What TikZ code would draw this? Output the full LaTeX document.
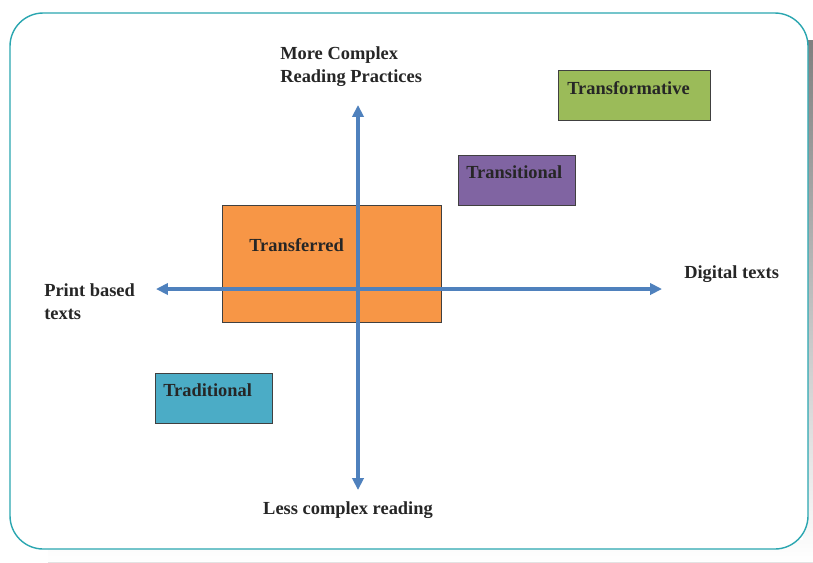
\documentclass[tikz,border=0pt]{standalone}
\usepackage{fontspec}
\setmainfont{Liberation Serif}
\usetikzlibrary{arrows.meta}
\definecolor{frameteal}{HTML}{2AA6B0}
\definecolor{shade}{HTML}{E9F0F2}
\definecolor{axisblue}{HTML}{4F81BD}
\definecolor{orangebox}{HTML}{F79646}
\definecolor{purplebox}{HTML}{8064A2}
\definecolor{greenbox}{HTML}{9BBB59}
\definecolor{bluebox}{HTML}{4BACC6}

\begin{document}
\begin{tikzpicture}[x=0.025cm, y=-0.025cm, >={Triangle[length=8.5pt, width=8pt]}]
        \tikzstyle{block} = [draw=black!75, rectangle, line width=0.7pt, anchor=north west, inner sep=0pt]
        \tikzstyle{txt} = [font=\bfseries\fontsize{13.1}{17}\selectfont, inner sep=0pt, text=black!85]
        \tikzstyle{axis} = [<->, axisblue, line width=2.2pt]

        \fill [white] (0,0) rectangle (813,562);
        \fill [shade] (813,40) -- (813,562) -- (48,562) -- (48,540) -- (803,540) -- (803,40) -- cycle;
        \draw [frameteal, fill=white, line width=1pt, rounded corners=0.83cm] (10,13) rectangle (808,549);

        % quadrant boxes
        \node [block, fill=orangebox, minimum width=5.475cm, minimum height=2.925cm] (transferred) at (222,205) {};
        \node [block, fill=purplebox, minimum width=2.925cm, minimum height=1.25cm] (transitional) at (458,155) {};
        \node [block, fill=greenbox, minimum width=3.8cm, minimum height=1.25cm] (transformative) at (558,70) {};
        \node [block, fill=bluebox, minimum width=2.925cm, minimum height=1.25cm] (traditional) at (155,373) {};

        \node [txt, anchor=base west] (transferred-t) at (249,251) {Transferred};
        \node [txt, anchor=base west] (transitional-t) at (466,178) {Transitional};
        \node [txt, anchor=base west] (transformative-t) at (567,94) {Transformative};
        \node [txt, anchor=base west] (traditional-t) at (163,396) {Traditional};

        % axes
        \coordinate (top) at (358,105);
        \coordinate (bottom) at (358,490);
        \coordinate (left) at (156,289);
        \coordinate (right) at (662,289);
        \draw [axis] (bottom) -- (top);
        \draw [axis] (left) -- (right);

        \node [txt, anchor=north west, align=left] (more) at (280,46) {More Complex\\Reading Practices};
        \node [txt, anchor=base] (less) at (348,514) {Less complex reading};
        \node [txt, anchor=north west, align=left] (print) at (44,283) {Print based\\texts};
        \node [txt, anchor=base west] (digital) at (684,278) {Digital texts};

        \useasboundingbox (0,0) rectangle (813,562);
    \end{tikzpicture}
\end{document}
